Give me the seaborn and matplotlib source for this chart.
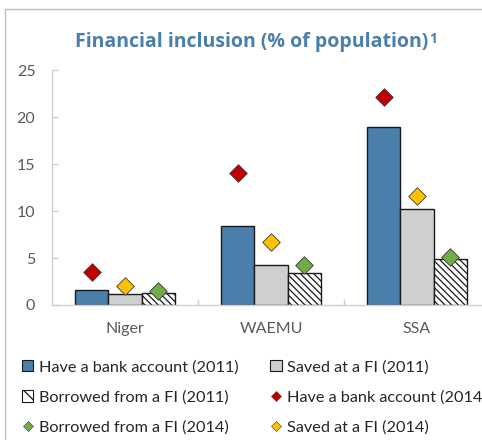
import numpy as np
import pandas as pd
import matplotlib
matplotlib.use("Agg")
import matplotlib.pyplot as plt
from matplotlib.patches import Patch, Rectangle
from matplotlib.lines import Line2D
import seaborn as sns

categories = ["Niger", "WAEMU", "SSA"]
bank_2011 = [1.6, 8.4, 18.9]
saved_2011 = [1.2, 4.3, 10.2]
borrowed_2011 = [1.3, 3.4, 4.9]
bank_2014 = [3.5, 14.0, 22.1]
saved_2014 = [2.0, 6.7, 11.6]
borrowed_2014 = [1.5, 4.3, 5.1]
y_ticks = [0, 5, 10, 15, 20, 25]

BLUE = "#4a7eab"
GREY = "#d0cfcf"
RED = "#c00000"
YELLOW = "#ffc000"
GREEN = "#70ad47"
TEXT = "#595959"
AXIS = "#d0d0d0"

sns.set_theme(style="white")
plt.rcParams["font.family"] = ["Lato", "DejaVu Sans"]
plt.rcParams["hatch.linewidth"] = 0.9

bars = pd.DataFrame({
    "region": categories * 3,
    "series": ["bank"] * 3 + ["saved"] * 3 + ["borrowed"] * 3,
    "value": bank_2011 + saved_2011 + borrowed_2011,
})

fig = plt.figure(figsize=(4.82, 4.40), dpi=100)
ax = fig.add_axes([52 / 482, 135 / 440, 438 / 482, 235 / 440])

sns.barplot(data=bars, x="region", y="value", hue="series",
            hue_order=["bank", "saved", "borrowed"],
            palette=[BLUE, GREY, "white"], width=0.68, gap=0,
            edgecolor="#1a1a1a", linewidth=1.0, saturation=1,
            legend=False, ax=ax)
for patch in ax.containers[2]:
    patch.set_hatch("\\\\\\\\\\")

# 2014 diamonds sit over the matching 2011 bar
bar_w = 0.68 / 3
base = np.arange(len(categories))
for vals, offset, color in [(bank_2014, -bar_w, RED),
                            (saved_2014, 0, YELLOW),
                            (borrowed_2014, bar_w, GREEN)]:
    sns.scatterplot(x=base + offset, y=vals, marker="D", s=80, color=color,
                    edgecolor="#3a3a3a", linewidth=0.6, zorder=5, ax=ax)

ax.set_xlim(-0.5, 2.5)
ax.set_ylim(0, 25)
ax.set_yticks(y_ticks)
ax.set_xlabel("")
ax.set_ylabel("")
for side in ["top", "right"]:
    ax.spines[side].set_visible(False)
for side in ["left", "bottom"]:
    ax.spines[side].set_color(AXIS)
    ax.spines[side].set_linewidth(1.0)

ax.tick_params(axis="y", direction="in", length=4, width=1, color=AXIS,
               labelsize=11.5, labelcolor=TEXT, pad=12, left=True)
ax.tick_params(axis="x", which="major", length=0, labelsize=11.5,
               labelcolor=TEXT, pad=12)
ax.set_xticks([0.5, 1.5], minor=True)
ax.tick_params(axis="x", which="minor", direction="in", length=4.5, width=1,
               color=AXIS, bottom=True)

title = fig.text(252 / 482, 1 - 42 / 440, "Financial inclusion (% of population)",
                 ha="center", va="center", fontsize=14, fontweight="bold",
                 color=BLUE, family=["Open Sans", "DejaVu Sans"])
ax.annotate("1", xy=(1, 1), xycoords=title, xytext=(0.5, 0),
            textcoords="offset points", ha="left", va="top",
            fontsize=10, fontweight="bold", color=BLUE,
            family=["Open Sans", "DejaVu Sans"], annotation_clip=False)

fig.patches.append(Rectangle((4.5 / 482, -0.2), 1.2, 1 - 9 / 440 + 0.2,
                             transform=fig.transFigure, fill=False,
                             edgecolor="#bfbfbf", linewidth=1.0))

sq = dict(edgecolor="#1a1a1a", linewidth=0.8)
dm = dict(marker="D", linestyle="none", markersize=5,
          markeredgecolor="#3a3a3a", markeredgewidth=0.4)
handles = [
    Patch(facecolor=BLUE, label="Have a bank account (2011)", **sq),
    Patch(facecolor="white", hatch="\\", label="Borrowed from a FI (2011)", **sq),
    Line2D([], [], color=GREEN, label="Borrowed from a FI (2014)", **dm),
    Patch(facecolor=GREY, label="Saved at a FI (2011)", **sq),
    Line2D([], [], color=RED, label="Have a bank account (2014)", **dm),
    Line2D([], [], color=YELLOW, label="Saved at a FI (2014)", **dm),
]
fig.legend(handles=handles, ncol=2, loc="upper left",
           bbox_to_anchor=(22 / 482, 1 - 360 / 440), frameon=False,
           fontsize=11.7, labelcolor="#262626", borderpad=0, borderaxespad=0,
           handlelength=0.7, handleheight=0.7, handletextpad=0.35,
           columnspacing=1.95, labelspacing=0.97)

fig.savefig("out.png", dpi=100)
